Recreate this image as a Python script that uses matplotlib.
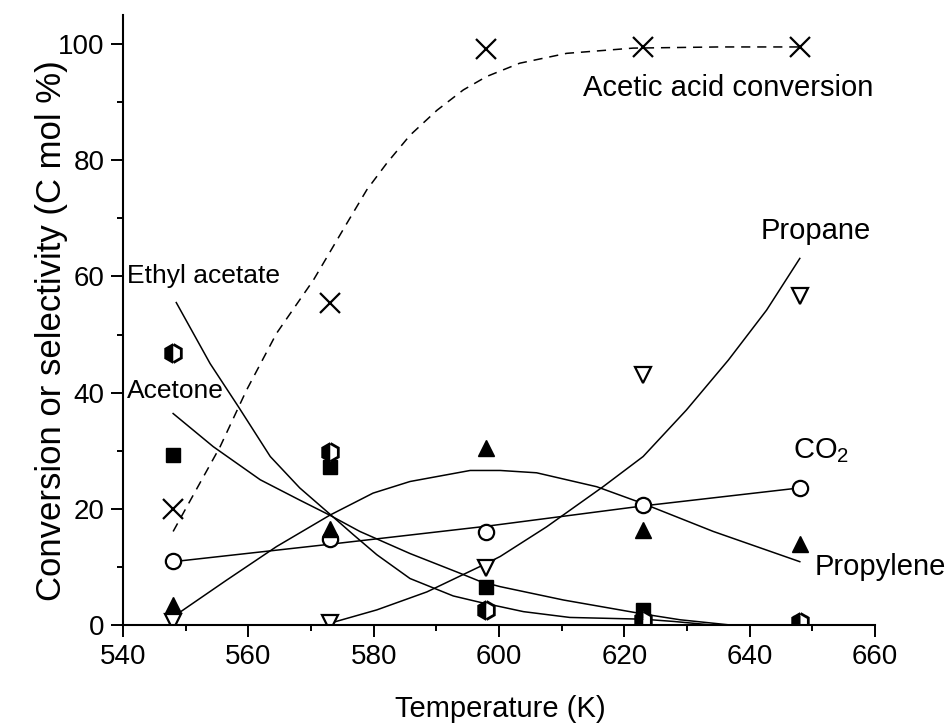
import numpy as np
import matplotlib.pyplot as plt
from matplotlib.ticker import MultipleLocator

plt.rcParams['font.family'] = ['Liberation Sans', 'DejaVu Sans']
plt.rcParams['mathtext.default'] = 'regular'

# measured points
temp = [548, 573, 598, 623, 648]
conversion = [20.0, 55.5, 99.2, 99.5, 99.5]
ethyl_acetate = [46.8, 29.8, 2.5, 0.9, 0.5]
acetone = [29.3, 27.2, 6.6, 2.5, 0.3]
co2 = [11.1, 14.8, 16.0, 20.7, 23.6]
propylene = [3.4, 16.6, 30.4, 16.4, 13.9]
propane = [0.6, 0.4, 9.8, 43.0, 56.6]

# fitted curves
conv_fit_t = [548, 552, 555.5, 559.7, 564.5, 570.4, 575.7, 578.9, 582.1, 585.8,
              590.1, 594.3, 598, 603.3, 610.8, 621.4, 635, 648]
conv_fit = [16.1, 23.9, 30.7, 40.4, 50.2, 59.4, 69.1, 74.9, 79.5, 84.3,
            88.6, 92.1, 94.4, 96.7, 98.4, 99.3, 99.5, 99.5]

ea_fit_t = [548.5, 553.9, 558.4, 563.5, 568.2, 573, 576.7, 580.5, 585.8, 592.7,
            597, 603.9, 611.3, 623, 628, 634, 648]
ea_fit = [55.5, 45.0, 37.6, 29.0, 23.6, 19.1, 15.6, 12.1, 8.0, 5.0,
          3.9, 2.3, 1.3, 1.0, 0.6, 0.0, 0.0]

ac_fit_t = [548, 554.4, 561.9, 568.2, 573, 577.8, 585.8, 593.8, 597, 600.2,
            610.3, 623, 628.9, 636.9, 648]
ac_fit = [36.4, 30.7, 25.0, 21.5, 18.9, 16.1, 12.3, 8.9, 7.5, 6.6,
          4.3, 1.9, 0.9, 0.0, 0.0]

pl_fit_t = [548, 556.5, 564.5, 573, 579.9, 585.8, 595.4, 600.2, 606, 615.6,
            623, 634.2, 648]
pl_fit = [1.4, 7.7, 13.5, 18.9, 22.7, 24.7, 26.6, 26.6, 26.2, 23.8,
          20.9, 16.1, 10.9]

pa_fit_t = [573, 580.5, 588.5, 598, 600.2, 607.6, 616.6, 623, 629.9, 636.6,
            642.7, 648]
pa_fit = [0.3, 2.6, 5.7, 10.6, 11.8, 16.9, 23.8, 29.0, 37.0, 45.6,
          54.2, 63.1]

co2_fit_t = [548, 573, 598, 623, 648]
co2_fit = [10.9, 13.9, 17.0, 20.5, 23.6]

fig = plt.figure(figsize=(9.52, 7.26), dpi=100)
ax = fig.add_axes([123 / 952, 1 - 625 / 726, 752 / 952, 610 / 726])

lw = 1.1
ax.plot(conv_fit_t, conv_fit, color='black', lw=lw, ls=(0, (6, 4.5)))
for t, y in [(ea_fit_t, ea_fit), (ac_fit_t, ac_fit), (pl_fit_t, pl_fit),
             (pa_fit_t, pa_fit), (co2_fit_t, co2_fit)]:
    ax.plot(t, y, color='black', lw=lw)

mew = 1.6
ax.plot(temp, conversion, 'x', color='black', ms=14, mew=mew)
ax.plot(temp, acetone, 's', color='black', ms=10)
ax.plot(temp, ethyl_acetate, 'h', ms=13, mec='black', mfc='black',
        markerfacecoloralt='white', fillstyle='left', mew=2)
ax.plot(temp, co2, 'o', ms=11, mec='black', mfc='white', mew=mew)
ax.plot(temp, propylene, '^', color='black', ms=11)
ax.plot(temp, propane, 'v', ms=11, mec='black', mfc='white', mew=mew)

ax.set_xlim(540, 660)
ax.set_ylim(0, 105)
ax.xaxis.set_major_locator(MultipleLocator(20))
ax.xaxis.set_minor_locator(MultipleLocator(10))
ax.yaxis.set_major_locator(MultipleLocator(20))
ax.yaxis.set_minor_locator(MultipleLocator(10))
ax.set_yticks([0, 20, 40, 60, 80, 100])

for s in ['top', 'right']:
    ax.spines[s].set_visible(False)
for s in ['left', 'bottom']:
    ax.spines[s].set_linewidth(1.5)
ax.tick_params(which='major', direction='out', length=8.5, width=1.4,
               labelsize=20, pad=5)
ax.tick_params(which='minor', direction='out', length=4.5, width=1.4)

fig.text(500 / 952, 1 - 717 / 726, 'Temperature (K)', fontsize=21,
         ha='center', va='baseline')
fig.text(52 / 952, 1 - 331 / 726, 'Conversion or selectivity (C mol %)',
         fontsize=25, rotation=90, ha='center', va='center')

ax.text(613.4, 92.4, 'Acetic acid conversion', fontsize=21, va='center')
ax.text(641.8, 67.9, 'Propane', fontsize=21, va='center')
ax.text(646.9, 30.1, 'CO$_2$', fontsize=21, va='center')
ax.text(650.4, 10.0, 'Propylene', fontsize=21, va='center', clip_on=False)
ax.text(540.6, 60.0, 'Ethyl acetate', fontsize=19, va='center')
ax.text(540.6, 40.3, 'Acetone', fontsize=19, va='center')

fig.savefig('out.png', dpi=100)
